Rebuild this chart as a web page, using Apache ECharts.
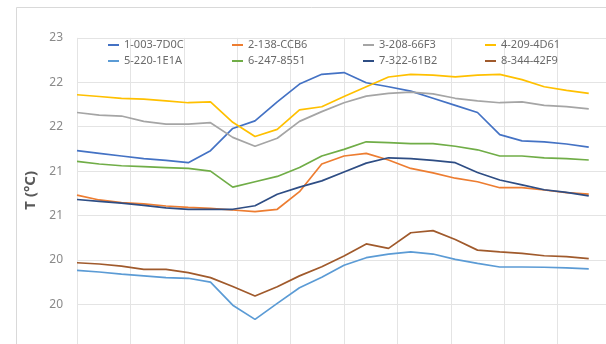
<!DOCTYPE html>
<html><head><meta charset="utf-8">
<script src="https://cdn.jsdelivr.net/npm/echarts@6/dist/echarts.min.js"></script>
<style>html,body{margin:0;padding:0;background:#fff}#c{width:606px;height:344px}</style>
</head><body><div id="c"></div>
<script>
const xIndex = [0,1,2,3,4,5,6,7,8,9,10,11,12,13,14,15,16,17,18,19,20,21,22,23];
const seriesNames = ['1-003-7D0C','2-138-CCB6','3-208-66F3','4-209-4D61','5-220-1E1A','6-247-8551','7-322-61B2','8-344-42F9'];
const s1 = [21.73,21.70,21.67,21.64,21.62,21.595,21.73,21.98,22.065,22.28,22.48,22.59,22.61,22.495,22.45,22.40,22.32,22.24,22.16,21.91,21.84,21.83,21.805,21.77];
const s2 = [21.23,21.175,21.145,21.13,21.107,21.092,21.081,21.062,21.043,21.07,21.268,21.58,21.67,21.70,21.625,21.53,21.48,21.42,21.38,21.313,21.313,21.287,21.257,21.24];
const s3 = [22.16,22.13,22.12,22.06,22.03,22.03,22.045,21.88,21.78,21.87,22.06,22.17,22.27,22.345,22.375,22.39,22.37,22.32,22.29,22.27,22.28,22.24,22.225,22.2];
const s4 = [22.36,22.34,22.32,22.31,22.29,22.27,22.28,22.05,21.89,21.97,22.19,22.225,22.34,22.45,22.56,22.59,22.58,22.56,22.58,22.59,22.53,22.45,22.41,22.375];
const s5 = [20.383,20.364,20.34,20.32,20.30,20.293,20.25,19.99,19.83,20.01,20.187,20.304,20.44,20.525,20.566,20.59,20.566,20.506,20.46,20.42,20.42,20.417,20.41,20.40];
const s6 = [21.61,21.58,21.56,21.55,21.54,21.53,21.50,21.32,21.38,21.44,21.54,21.67,21.745,21.83,21.82,21.81,21.81,21.78,21.74,21.67,21.67,21.65,21.64,21.625];
const s7 = [21.18,21.16,21.14,21.115,21.085,21.07,21.07,21.07,21.11,21.24,21.32,21.39,21.49,21.59,21.65,21.64,21.62,21.595,21.485,21.40,21.345,21.29,21.26,21.22];
const s8 = [20.468,20.454,20.43,20.394,20.394,20.356,20.30,20.20,20.093,20.198,20.32,20.423,20.544,20.68,20.63,20.806,20.83,20.73,20.61,20.59,20.574,20.547,20.536,20.514];
const yTickValues = [20,20.5,21,21.5,22,22.5,23];
const yTickLabels = ['20','20','21','21','22','22','23'];
const yAxisTitle = 'T (°C)';

const allSeries = [s1,s2,s3,s4,s5,s6,s7,s8];
const colors = ['#4472C4','#ED7D31','#A5A5A5','#FFC000','#5B9BD5','#70AD47','#2E4D84','#A05A2C'];
const legendCols = [108,232,363,485];
const legendRows = [39,55];
const FONT = "'Noto Sans', sans-serif";

const chart = echarts.init(document.getElementById('c'), null, {renderer:'canvas'});
chart.setOption({
  backgroundColor:'#ffffff',
  animation:false,
  graphic:[{type:'rect', silent:true, shape:{x:16.5,y:7.5,width:700,height:400}, style:{fill:'none', stroke:'#d9d9d9', lineWidth:1}}],
  grid:{left:77, top:37.9, width:534, height:310.8, containLabel:false, outerBoundsMode:'none'},
  xAxis:{type:'value', min:0, max:24, interval:2.4,
    axisLabel:{show:false}, axisTick:{show:false}, axisLine:{show:false},
    splitLine:{show:true, lineStyle:{color:'#e4e4e4', width:1}}},
  yAxis:{type:'value', min:19.5, max:23, interval:0.5,
    name:yAxisTitle, nameLocation:'middle', nameRotate:90, nameGap:28,
    nameTextStyle:{fontFamily:FONT, fontSize:15, fontWeight:'bold', color:'#595959', padding:[0,0,0,6]},
    axisLine:{show:false}, axisTick:{show:false},
    axisLabel:{margin:14, fontFamily:FONT, fontSize:12, color:'#8a8a8a',
      formatter:function(v){ for(let i=0;i<yTickValues.length;i++){ if(Math.abs(v-yTickValues[i])<1e-6) return yTickLabels[i]; } return ''; }},
    splitLine:{show:true, lineStyle:{color:'#e4e4e4', width:1}}},
  legend: seriesNames.map((n,i)=>({
    data:[n], left:legendCols[i%4], top:legendRows[Math.floor(i/4)],
    icon:'rect', itemWidth:11, itemHeight:2, itemGap:0, padding:0,
    textStyle:{fontFamily:FONT, fontSize:11, color:'#6a6a6a', lineHeight:12}
  })),
  series: seriesNames.map((n,i)=>({
    name:n, type:'line', symbol:'none', color:colors[i],
    lineStyle:{width:1.7, color:colors[i]},
    data: xIndex.map((x,j)=>[x, allSeries[i][j]])
  }))
});
</script></body></html>
